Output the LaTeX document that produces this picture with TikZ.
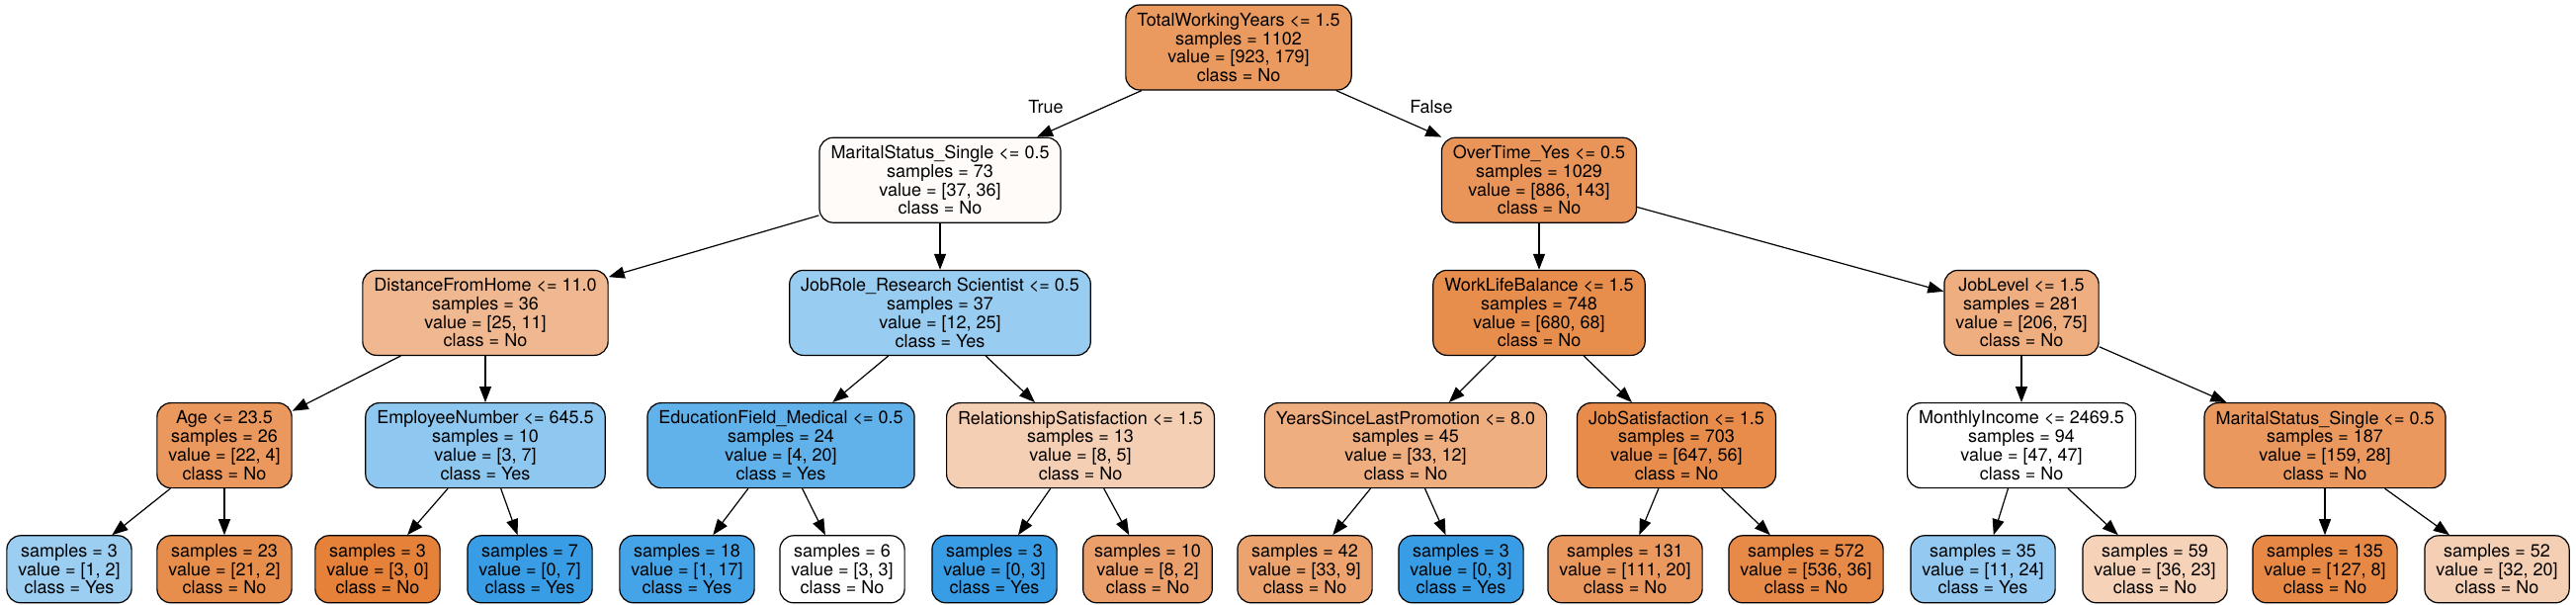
\documentclass[tikz,border=0pt]{standalone}
\usepackage{fontspec}
\setmainfont{TeX Gyre Heros}
\usetikzlibrary{positioning,arrows.meta}
\definecolor{clsno}{HTML}{E58139}
\definecolor{clsyes}{HTML}{399DE5}
\tikzset{
  box/.style={draw=black, line width=1.2pt, rounded corners=14pt, align=center,
    inner xsep=11.5pt, inner ysep=0pt, font=\fontsize{18}{18.7}\selectfont},
  split/.style={box, minimum height=86pt},
  leaf/.style={box, minimum height=68pt},
  arr/.style={-{Triangle[length=16pt,width=12pt]}, line width=1.2pt},
  lbl/.style={font=\fontsize{18}{18.7}\selectfont, inner sep=0pt}
}

\begin{document}
\begin{tikzpicture}[x=1pt, y=1pt, node distance=47pt]
  \useasboundingbox (0,0) rectangle (2606,-611);

  % Define nodes
  \node[split, fill=clsno!81!white] (root) at (1253,-48) {TotalWorkingYears <= 1.5\\samples = 1102\\value = [923, 179]\\class = No};

  \node[split, fill=clsno!3!white, below=of root, xshift=-302pt] (ms1) {MaritalStatus\_Single <= 0.5\\samples = 73\\value = [37, 36]\\class = No};
  \node[split, fill=clsno!84!white, below=of root, xshift=304pt] (ot) {OverTime\_Yes <= 0.5\\samples = 1029\\value = [886, 143]\\class = No};

  \node[split, fill=clsno!56!white, below=of ms1, xshift=-460pt] (dfh) {DistanceFromHome <= 11.0\\samples = 36\\value = [25, 11]\\class = No};
  \node[split, fill=clsyes!52!white, below=of ms1] (jr) {JobRole\_Research Scientist <= 0.5\\samples = 37\\value = [12, 25]\\class = Yes};
  \node[split, fill=clsno!90!white, below=of ot] (wlb) {WorkLifeBalance <= 1.5\\samples = 748\\value = [680, 68]\\class = No};
  \node[split, fill=clsno!64!white, below=of ot, xshift=488pt] (jl) {JobLevel <= 1.5\\samples = 281\\value = [206, 75]\\class = No};

  \node[split, fill=clsno!82!white, below=of dfh, xshift=-264pt] (age) {Age <= 23.5\\samples = 26\\value = [22, 4]\\class = No};
  \node[split, fill=clsyes!57!white, below=of dfh] (en) {EmployeeNumber <= 645.5\\samples = 10\\value = [3, 7]\\class = Yes};
  \node[split, fill=clsyes!80!white, below=of jr, xshift=-161pt] (ef) {EducationField\_Medical <= 0.5\\samples = 24\\value = [4, 20]\\class = Yes};
  \node[split, fill=clsno!38!white, below=of jr, xshift=142pt] (rs) {RelationshipSatisfaction <= 1.5\\samples = 13\\value = [8, 5]\\class = No};
  \node[split, fill=clsno!64!white, below=of wlb, xshift=-135pt] (ys) {YearsSinceLastPromotion <= 8.0\\samples = 45\\value = [33, 12]\\class = No};
  \node[split, fill=clsno!91!white, below=of wlb, xshift=139pt] (js) {JobSatisfaction <= 1.5\\samples = 703\\value = [647, 56]\\class = No};
  \node[split, fill=white, below=of jl] (mi) {MonthlyIncome <= 2469.5\\samples = 94\\value = [47, 47]\\class = No};
  \node[split, fill=clsno!82!white, below=of jl, xshift=307pt] (ms2) {MaritalStatus\_Single <= 0.5\\samples = 187\\value = [159, 28]\\class = No};

  % Leaves
  \node[leaf, fill=clsyes!50!white, below=of age, xshift=-157pt] (age1) {samples = 3\\value = [1, 2]\\class = Yes};
  \node[leaf, fill=clsno!90!white, below=of age] (age2) {samples = 23\\value = [21, 2]\\class = No};
  \node[leaf, fill=clsno, below=of en, xshift=-109pt] (en1) {samples = 3\\value = [3, 0]\\class = No};
  \node[leaf, fill=clsyes, below=of en, xshift=45pt] (en2) {samples = 7\\value = [0, 7]\\class = Yes};
  \node[leaf, fill=clsyes!94!white, below=of ef, xshift=-95pt] (ef1) {samples = 18\\value = [1, 17]\\class = Yes};
  \node[leaf, fill=white, below=of ef, xshift=62pt] (ef2) {samples = 6\\value = [3, 3]\\class = No};
  \node[leaf, fill=clsyes, below=of rs, xshift=-87pt] (rs1) {samples = 3\\value = [0, 3]\\class = Yes};
  \node[leaf, fill=clsno!75!white, below=of rs, xshift=68pt] (rs2) {samples = 10\\value = [8, 2]\\class = No};
  \node[leaf, fill=clsno!73!white, below=of ys, xshift=-102pt] (ys1) {samples = 42\\value = [33, 9]\\class = No};
  \node[leaf, fill=clsyes, below=of ys, xshift=56pt] (ys2) {samples = 3\\value = [0, 3]\\class = Yes};
  \node[leaf, fill=clsno!82!white, below=of js, xshift=-52pt] (js1) {samples = 131\\value = [111, 20]\\class = No};
  \node[leaf, fill=clsno!93!white, below=of js, xshift=131pt] (js2) {samples = 572\\value = [536, 36]\\class = No};
  \node[leaf, fill=clsyes!54!white, below=of mi, xshift=-39pt] (mi1) {samples = 35\\value = [11, 24]\\class = Yes};
  \node[leaf, fill=clsno!36!white, below=of mi, xshift=135pt] (mi2) {samples = 59\\value = [36, 23]\\class = No};
  \node[leaf, fill=clsno!94!white, below=of ms2] (ms21) {samples = 135\\value = [127, 8]\\class = No};
  \node[leaf, fill=clsno!38!white, below=of ms2, xshift=174pt] (ms22) {samples = 52\\value = [32, 20]\\class = No};

  % Edge labels
  \node[lbl] (true) at (1058,-108) {True};
  \node[lbl] (false) at (1448,-108) {False};

  % Connect the nodes
  \foreach \a/\b in {root/ms1, root/ot, ms1/dfh, ms1/jr, ot/wlb, ot/jl,
      dfh/age, dfh/en, jr/ef, jr/rs, wlb/ys, wlb/js, jl/mi, jl/ms2,
      age/age1, age/age2, en/en1, en/en2, ef/ef1, ef/ef2, rs/rs1, rs/rs2,
      ys/ys1, ys/ys2, js/js1, js/js2, mi/mi1, mi/mi2, ms2/ms21, ms2/ms22}
    \draw[arr] (\a) -- (\b);

\end{tikzpicture}
\end{document}
